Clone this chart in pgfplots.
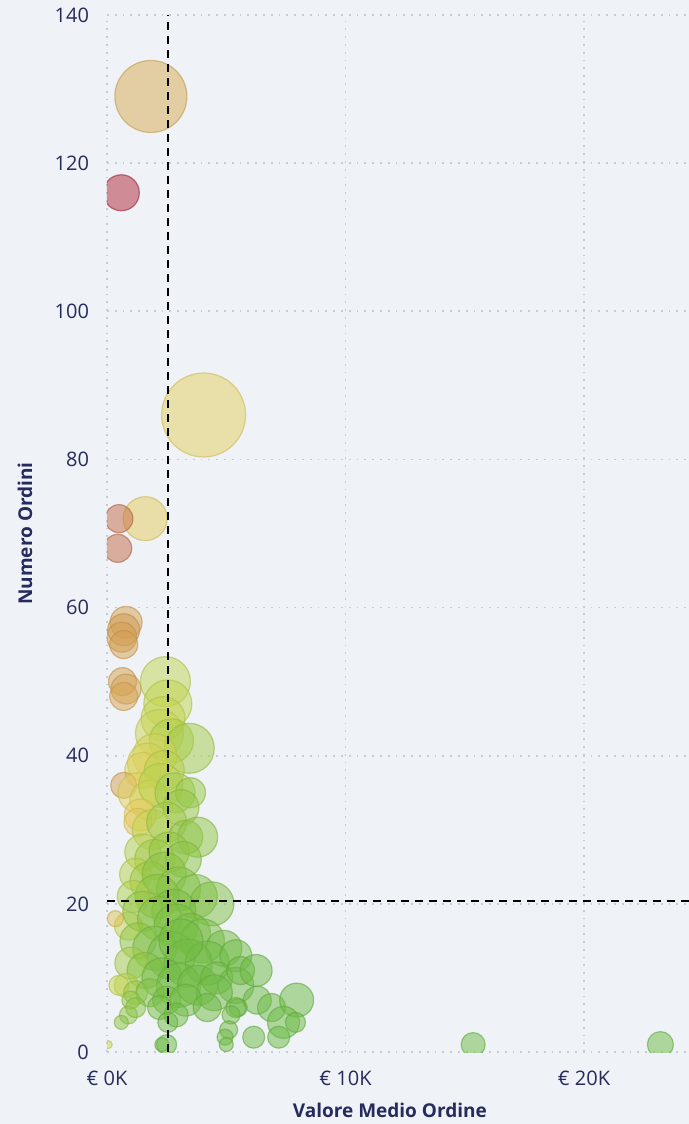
\documentclass[border=0pt]{standalone}
\usepackage{fontspec}
\setmainfont{Open Sans}
\usepackage{pgfplots}
\usepackage{pgfplotstable}
\pgfplotsset{compat=1.18}
\usetikzlibrary{backgrounds}
\definecolor{bg}{RGB}{239,243,247}
\definecolor{navy}{RGB}{38,42,92}
\definecolor{gridc}{RGB}{198,204,212}
\pgfplotsset{colormap={bubble}{rgb255(0cm)=(100,184,68) rgb255(2.5cm)=(150,200,68) rgb255(4.5cm)=(200,214,80) rgb255(5.5cm)=(230,208,92) rgb255(7.5cm)=(212,158,80) rgb255(10cm)=(176,38,56)}}
\pgfplotstableread{
x y r c
1.84 129 36 0.70
0.60 116 18 1.00
4.05 86 42 0.56
1.60 72 22 0.57
0.50 72 14 0.86
0.45 68 14 0.86
0.80 58 16 0.74
0.70 57 16 0.76
0.62 56 15 0.75
0.70 55 14 0.74
0.65 50 14 0.74
0.80 49 15 0.73
0.70 48 14 0.72
2.45 50 25 0.42
2.55 47 24 0.42
2.35 45 22 0.44
2.20 43 24 0.46
2.70 42 22 0.36
3.45 41 25 0.30
2.00 40 22 0.48
1.70 39 20 0.50
1.50 38 18 0.53
2.40 38 20 0.40
0.70 36 13 0.74
1.30 35 20 0.54
1.80 34 20 0.50
2.25 36 22 0.40
2.85 35 20 0.30
3.50 35 15 0.26
3.10 33 18 0.26
1.40 32 16 0.56
1.30 31 14 0.58
1.90 30 20 0.44
2.50 31 20 0.30
3.30 29 17 0.22
3.80 29 20 0.22
1.50 27 18 0.38
2.00 26 20 0.30
2.60 27 20 0.24
3.20 26 18 0.20
1.20 24 16 0.40
1.80 23 20 0.28
2.40 24 22 0.20
3.00 22 22 0.16
3.70 21 22 0.14
4.40 20 22 0.14
2.10 21 22 0.18
2.80 19 22 0.12
1.10 21 16 0.36
0.90 17 14 0.44
0.35 18 8 0.62
1.50 19 20 0.22
2.20 18 22 0.16
2.90 17 22 0.12
3.50 16 20 0.10
4.00 15 22 0.10
4.90 14 18 0.08
1.30 15 18 0.22
2.00 14 22 0.12
2.70 13 24 0.08
3.40 12 24 0.06
4.20 12 22 0.06
5.40 13 16 0.06
3.10 15 22 0.08
1.00 12 16 0.32
1.60 11 18 0.18
2.30 10 20 0.08
3.00 9 22 0.06
3.80 9 20 0.06
4.60 10 16 0.06
5.40 9 18 0.05
4.50 8 18 0.05
0.80 9 12 0.40
0.50 9 10 0.44
1.20 8 12 0.26
1.80 8 14 0.14
2.50 7 14 0.08
3.30 7 16 0.06
4.20 6 14 0.05
1.00 7 9 0.24
0.90 5 9 0.22
1.20 6 10 0.20
0.60 4 7 0.20
2.20 6 12 0.08
2.90 5 12 0.06
2.55 4 10 0.05
2.50 1 10 0.04
2.30 1 7 0.06
0.05 1 4 0.46
5.60 11 14 0.05
6.25 11 16 0.04
6.30 7 14 0.04
6.90 6 14 0.04
7.95 7 17 0.04
7.40 4 16 0.04
6.15 2 11 0.04
7.20 2 11 0.04
7.90 4 10 0.04
5.50 6 9 0.05
5.40 6 10 0.05
5.20 5 9 0.05
5.10 3 9 0.05
4.95 2 8 0.05
5.00 1 7 0.05
15.35 1 12 0.04
23.20 1 13 0.04
}\bubbles
\begin{document}
\begin{tikzpicture}
\begin{axis}[
  at={(0,0)}, anchor=south west,
  width=291pt, height=518.5pt, scale only axis,
  xmin=0, xmax=24.4, ymin=0, ymax=140,
  axis line style={draw=none},
  tick style={draw=none},
  xtick={0,10,20}, xticklabels={€ 0K,€ 10K,€ 20K},
  ytick={0,20,...,140},
  grid=major,
  grid style={gridc, line width=0.9pt, dash pattern=on 0.9pt off 3pt},
  tick label style={font=\fontsize{10}{12}\selectfont, text=navy},
  xticklabel style={yshift=-6pt},
  yticklabel style={xshift=-5.5pt},
  /pgf/number format/assume math mode=true,
  xlabel={Valore Medio Ordine}, ylabel={Numero Ordini},
  label style={font=\bfseries\fontsize{9.5}{11}\selectfont, text=navy},
  xlabel style={at={(axis description cs:0.486,-0.056)}, anchor=center},
  ylabel style={at={(axis description cs:-0.141,0.5)}, anchor=center},
  colormap name=bubble,
  point meta min=0, point meta max=1,
  clip marker paths=true,
]
\addplot[scatter, only marks, mark=*,
  point meta=explicit,
  visualization depends on={\thisrow{r} \as \rad},
  scatter/use mapped color={draw=mapped color!90!black, fill=mapped color},
  scatter/@pre marker code/.append style={/tikz/mark size=0.5*\rad},
  mark options={fill opacity=0.5, draw opacity=0.6, line width=0.6pt},
] table[x=x, y=y, meta=c] {\bubbles};
\addplot[black, line width=0.9pt, dash pattern=on 4pt off 3pt] coordinates {(2.56,0) (2.56,140)};
\addplot[black, line width=0.9pt, dash pattern=on 4pt off 3pt] coordinates {(0,20.4) (24.4,20.4)};
\end{axis}
\begin{scope}[on background layer]
\fill[bg] (-53.5pt,-36pt) rectangle (291pt,526pt);
\end{scope}
\pgfresetboundingbox
\path (-53.5pt,-36pt) rectangle (291pt,526pt);
\end{tikzpicture}
\end{document}
